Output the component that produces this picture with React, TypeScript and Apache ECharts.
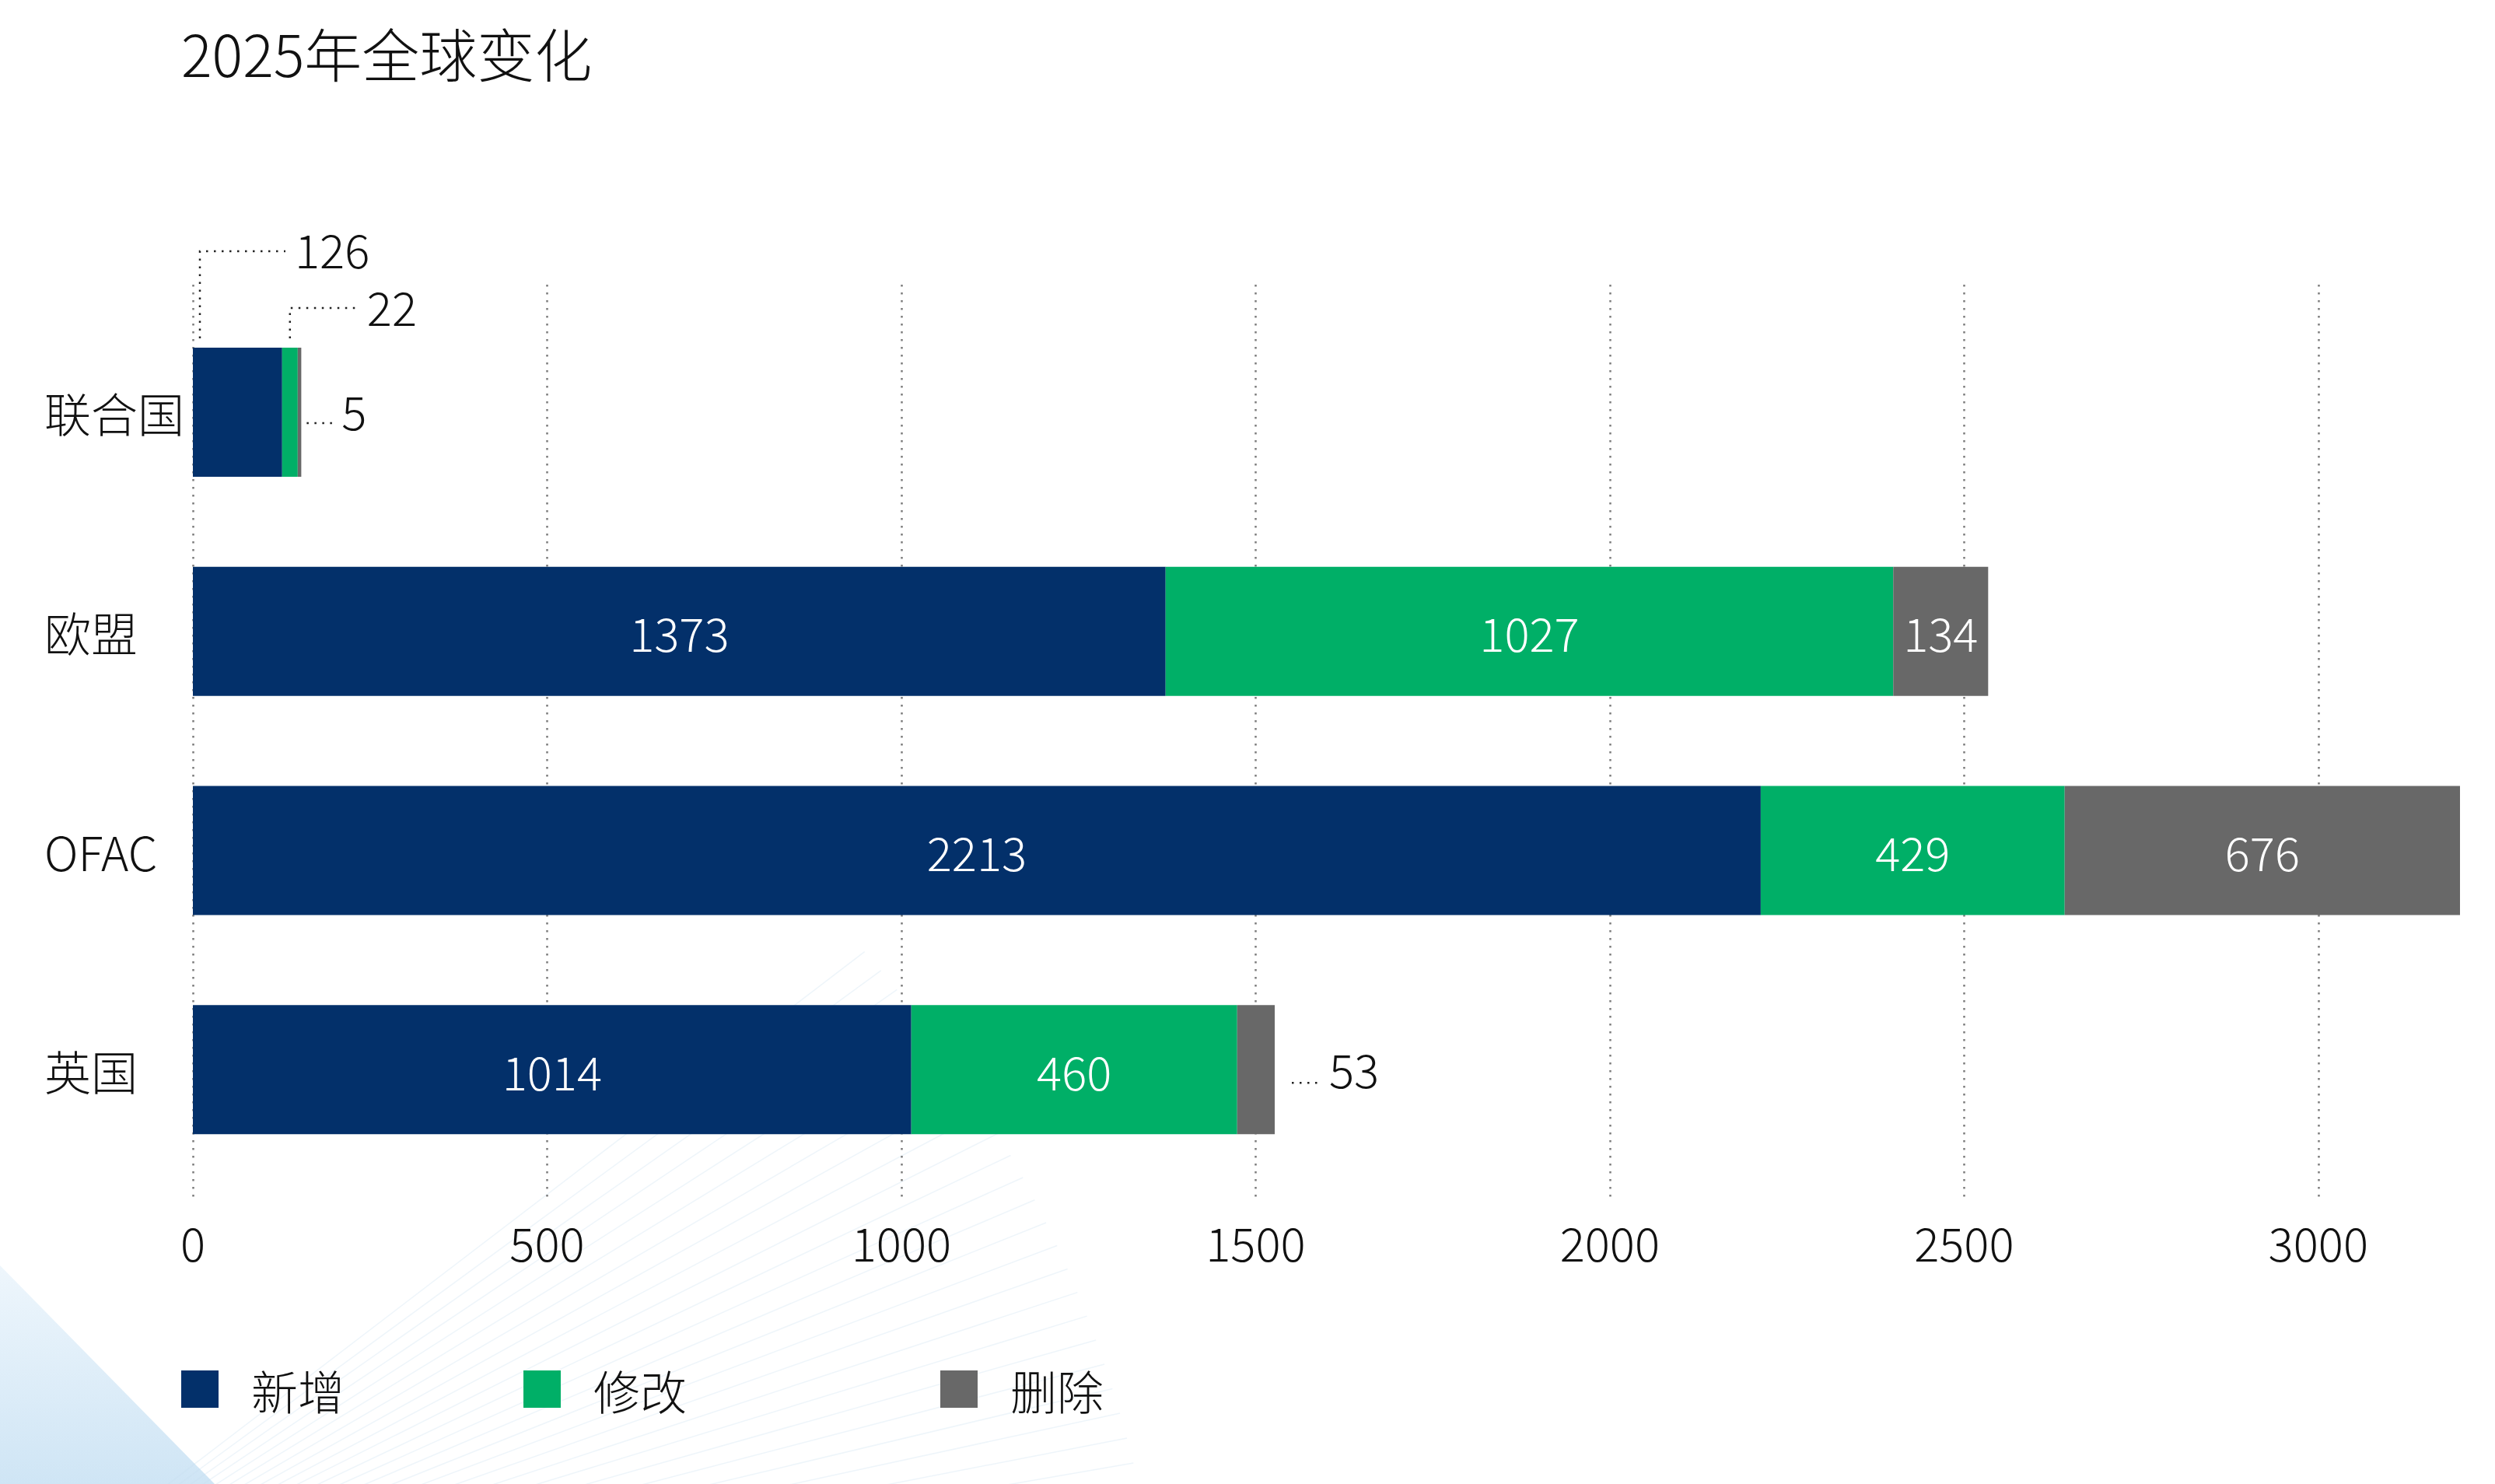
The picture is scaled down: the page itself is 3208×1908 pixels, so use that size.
import React, { useEffect, useRef } from "react";
import * as echarts from "echarts";

// ---------- data ----------
const categories = ["联合国", "欧盟", "OFAC", "英国"];
const seriesNames = ["新增", "修改", "删除"];
const addedValues = [126, 1373, 2213, 1014];
const modifiedValues = [22, 1027, 429, 460];
const deletedValues = [5, 134, 676, 53];
const titleText = "2025年全球变化";
const xMin = 0;
const xMax = 3200;
const xInterval = 500;

const colors = ["#03306A", "#00AF67", "#686868"];
const FONT = "'Noto Sans CJK SC', 'Noto Sans', sans-serif";
const BAR_W = 166;

// labels that sit outside their bar segment: [seriesIndex, categoryIndex]
const isOutside = (s: number, c: number) => c === 0 || (c === 3 && s === 2);

export default function App() {
  const ref = useRef<HTMLDivElement>(null);

  useEffect(() => {
    const chart = echarts.init(ref.current!, null, { renderer: "svg" });
    const valueSets = [addedValues, modifiedValues, deletedValues];

    const series = seriesNames.map((name, s) => ({
      name,
      type: "bar",
      stack: "total",
      xAxisIndex: 0,
      yAxisIndex: 0,
      barWidth: BAR_W,
      itemStyle: { color: colors[s] },
      label: {
        show: true,
        position: "inside",
        color: "#ffffff",
        fontSize: 60,
        fontFamily: FONT,
        fontWeight: 300,
      },
      data: valueSets[s].map((v, c) =>
        isOutside(s, c) ? { value: v, label: { show: false } } : v
      ),
    }));

    const legendLefts = [233, 673, 1209];
    const option: any = {
      animation: false,
      backgroundColor: "#ffffff",
      title: {
        text: titleText,
        left: 233,
        top: 29,
        padding: 0,
        textStyle: {
          fontSize: 74,
          lineHeight: 74,
          fontWeight: 300,
          color: "#111111",
          fontFamily: FONT,
        },
      },
      legend: seriesNames.map((name, s) => ({
        data: [name],
        left: legendLefts[s],
        top: 1756,
        padding: 0,
        itemWidth: 48,
        itemHeight: 48,
        itemGap: 0,
        icon: "rect",
        selectedMode: false,
        textStyle: {
          fontSize: 60,
          lineHeight: 60,
          color: "#111111",
          fontFamily: FONT,
          fontWeight: 300,
          padding: [0, 0, 0, 37],
        },
      })),
      grid: [
        { left: 248, right: 45, top: 389, bottom: 392, outerBoundsMode: "none" },
        { left: 248, right: 45, top: 366, bottom: 363, outerBoundsMode: "none" },
      ],
      xAxis: [
        { gridIndex: 0, type: "value", min: xMin, max: xMax, show: false },
        {
          gridIndex: 1,
          type: "value",
          min: xMin,
          max: xMax,
          interval: xInterval,
          axisLine: { show: false },
          axisTick: { show: false },
          splitLine: {
            show: true,
            showMinLine: true,
            showMaxLine: false,
            lineStyle: { type: [2.5, 7.5], color: "#7c7c7c", width: 2.5 },
          },
          axisLabel: {
            showMaxLabel: false,
            fontSize: 60,
            color: "#111111",
            margin: 20,
            fontFamily: FONT,
            fontWeight: 300,
            formatter: (v: number) => String(v),
          },
        },
      ],
      yAxis: [
        {
          gridIndex: 0,
          type: "category",
          data: categories,
          inverse: true,
          axisLine: { show: false },
          axisTick: { show: false },
          splitLine: { show: false },
          axisLabel: {
            align: "left",
            margin: 191,
            fontSize: 60,
            color: "#111111",
            fontFamily: FONT,
            fontWeight: 300,
          },
        },
        { gridIndex: 1, type: "value", show: false },
      ],
      series,
    };

    chart.setOption(option);

    // ---------- annotations placed through the chart's own scales ----------
    const pt = (v: number, c: number) =>
      chart.convertToPixel({ gridIndex: 0 } as any, [v, c]) as number[];
    const dots = {
      stroke: "#222222",
      lineWidth: 2.5,
      lineDash: [2.5, 7.5],
      fill: null,
    };
    const txt = (x: number, y: number, text: string) => ({
      type: "text",
      x,
      y,
      z: 10,
      style: {
        text,
        fontSize: 60,
        fontFamily: FONT,
        fontWeight: 300,
        fill: "#111111",
        align: "left",
        verticalAlign: "middle",
      },
    });

    const elements: any[] = [];

    // decorative background (bottom-left)
    elements.push({
      type: "polygon",
      z: -5,
      silent: true,
      shape: { points: [[0, 1627], [276, 1908], [0, 1908]] },
      style: {
        fill: new echarts.graphic.LinearGradient(0, 0, 0, 1, [
          { offset: 0, color: "#eef6fc" },
          { offset: 1, color: "#cfe5f5" },
        ]),
      },
    });
    const ox = -100;
    const oy = 2150;
    for (let a = 5; a <= 38; a += 1.2) {
      const r = (a * Math.PI) / 180;
      const R0 = 350;
      const R1 = 1600 - a * 2;
      elements.push({
        type: "line",
        z: -5,
        silent: true,
        shape: {
          x1: ox + R0 * Math.cos(r),
          y1: oy - R0 * Math.sin(r),
          x2: ox + R1 * Math.cos(r),
          y2: oy - R1 * Math.sin(r),
        },
        style: { stroke: "rgba(200, 222, 238, 0.3)", lineWidth: 1.5 },
      });
    }

    // 联合国 (category 0)
    {
      const c = 0;
      const a = addedValues[c];
      const m = modifiedValues[c];
      const d = deletedValues[c];
      const cy = pt(0, c)[1];
      const top = cy - BAR_W / 2;
      const x0 = pt(0, c)[0];
      const xG0 = pt(a, c)[0];
      const xG1 = pt(a + m, c)[0];
      const xD1 = pt(a + m + d, c)[0];

      const v1 = x0 + 9;
      const y1 = cy - 207;
      elements.push({
        type: "polyline",
        z: 10,
        shape: { points: [[v1, top - 12], [v1, y1], [v1 + 110, y1]] },
        style: dots,
      });
      elements.push(txt(v1 + 122, y1 - 4, String(a)));

      const v2 = (xG0 + xG1) / 2;
      const y2 = cy - 134;
      elements.push({
        type: "polyline",
        z: 10,
        shape: { points: [[v2, top - 12], [v2, y2], [v2 + 90, y2]] },
        style: dots,
      });
      elements.push(txt(v2 + 99, y2 - 3, String(m)));

      elements.push({
        type: "polyline",
        z: 10,
        shape: { points: [[xD1 + 7, cy + 14], [xD1 + 41, cy + 14]] },
        style: dots,
      });
      elements.push(txt(xD1 + 52, cy - 3, String(d)));
    }

    // 英国 deleted (category 3)
    {
      const c = 3;
      const total = addedValues[c] + modifiedValues[c] + deletedValues[c];
      const cy = pt(0, c)[1];
      const xE = pt(total, c)[0];
      elements.push({
        type: "polyline",
        z: 10,
        shape: { points: [[xE + 22, cy + 17], [xE + 60, cy + 17]] },
        style: dots,
      });
      elements.push(txt(xE + 70, cy - 3, String(deletedValues[c])));
    }

    chart.setOption({ graphic: elements });

    return () => chart.dispose();
  }, []);

  return (
    <div
      ref={ref}
      style={{ position: "absolute", left: 0, top: 0, width: 3208, height: 1908 }}
    />
  );
}
